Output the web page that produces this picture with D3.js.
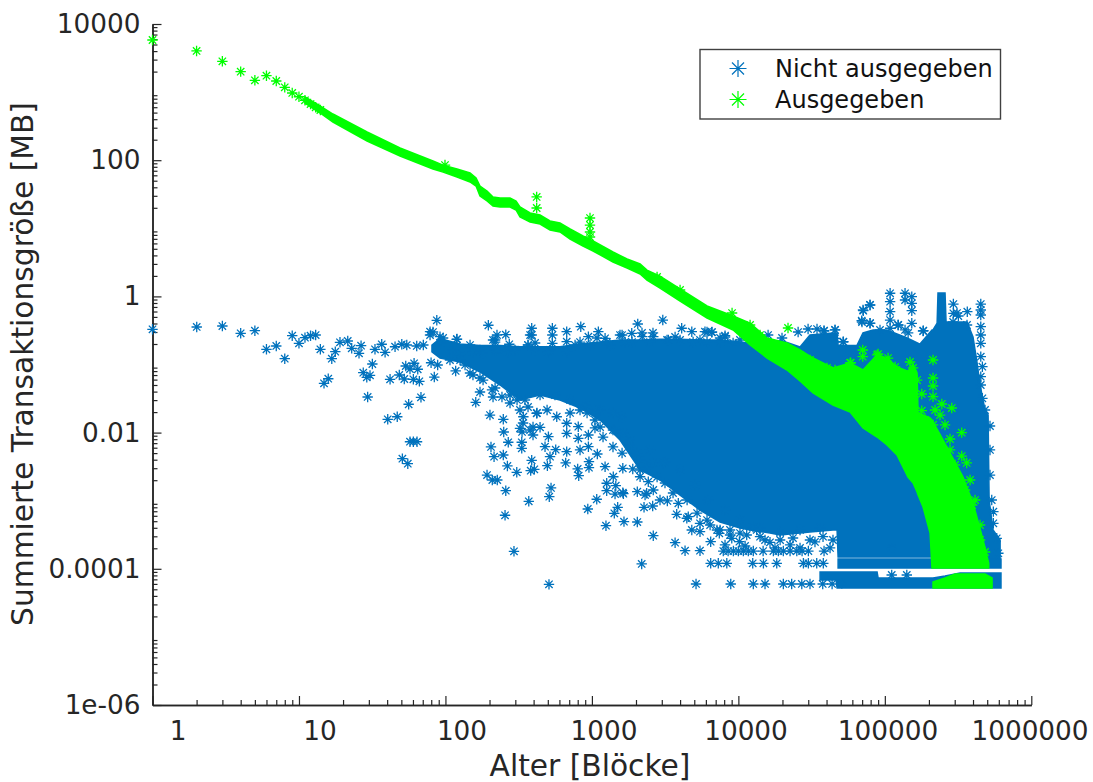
<!DOCTYPE html>
<html><head><meta charset="utf-8">
<script src="https://cdn.jsdelivr.net/npm/d3@7"></script>
<style>html,body{margin:0;padding:0;background:#fff}svg{display:block}text{font-family:"DejaVu Sans",sans-serif}</style>
</head><body><svg id="c" width="1093" height="782"></svg>
<script>
// All readings are log10(value): [log10 Alter, log10 Größe]
const seriesNames = ["Nicht ausgegeben", "Ausgegeben"];
const xTickLabels = ["1","10","100","1000","10000","100000","1000000"];
const yTickLabels = ["1e-06","0.0001","0.01","1","100","10000"];

// Dense core of "Nicht ausgegeben": [log Alter, log top, log bottom]
const nichtKern = [[1.908,-.714,-.816],[1.963,-.620,-.905],[2.100,-.700,-.963],[2.236,-.720,-1.110],[2.373,-.720,-1.301],[2.509,-.740,-1.521],[2.646,-.740,-1.448],[2.782,-.740,-1.521],[2.919,-.700,-1.639],[3.056,-.670,-1.815],[3.192,-.640,-2.109],[3.329,-.640,-2.549],[3.465,-.630,-2.696],[3.602,-.630,-2.917],[3.738,-.640,-3.137],[3.875,-.640,-3.313],[4.011,-.670,-3.401],[4.080,-.684,-3.430],[4.216,-.758,-3.475],[4.285,-.640,-3.504],[4.421,-.743,-3.475],[4.489,-.567,-3.460],[4.646,-.537,-3.430],[4.674,-.537,-3.430],[4.681,-.720,-3.827],[4.810,-.720,-3.827],[4.851,-.537,-3.827],[4.920,-.493,-3.827],[5.015,-.493,-3.827],[5.152,-.611,-3.827],[5.240,-.700,-3.827],[5.322,-.493,-3.827],[5.329,-.493,-3.871],[5.357,-.391,-3.871],[5.363,.050,-3.871],[5.411,.050,-3.871],[5.418,-.376,-3.871],[5.561,-.376,-3.871],[5.602,-.596,-3.871],[5.630,-.978,-3.871],[5.650,-1.301,-3.871],[5.684,-1.668,-3.871],[5.705,-1.741,-3.871],[5.712,-2.990,-3.871],[5.739,-3.430,-3.871],[5.787,-3.577,-3.871]];
const nichtBandOben = [[4.681,-3.856,-3.988],[5.793,-3.856,-3.988]];
const nichtBandUnten = [[4.558,-4.047,-4.165],[4.667,-4.047,-4.165],[4.674,-4.047,-4.282],[4.947,-4.047,-4.282],[4.954,-4.135,-4.282],[5.329,-4.135,-4.282],[5.411,-4.106,-4.282],[5.514,-4.062,-4.282],[5.793,-4.062,-4.282]];

// Individually readable "Nicht ausgegeben" markers
const nichtPunkte = [[0,-.483],[.302,-.449],[.477,-.435],[.602,-.542],[.699,-.504],[.778,-.777],[.845,-.728],[.903,-.915],[.954,-.577],[1,-.689],[1.041,-.606],[1.079,-.577],[1.114,-.567],[1.146,-.777],[1.224,-.915],[1.248,-.812],[1.171,-1.276],[1.200,-1.209],[1.280,-.674],[1.333,-.655],[1.360,-.762],[1.410,-.836],[1.424,-.724],[1.439,-1.120],[1.463,-1.188],[1.485,-1.159],[1.501,-.993],[1.469,-1.477],[1.519,-.777],[1.565,-.703],[1.588,-.821],[1.622,-1.217],[1.606,-1.805],[1.671,-1.767],[1.656,-.739],[1.702,-.703],[1.685,-1.154],[1.719,-1.213],[1.729,-1.022],[1.758,-1.066],[1.786,-.982],[1.811,-1.070],[1.781,-1.217],[1.822,-1.247],[1.749,-1.584],[1.833,-1.482],[1.781,-2.134],[1.806,-2.134],[1.758,-2.134],[1.706,-2.383],[1.743,-2.457],[1.736,-.714],[1.804,-.728],[1.849,-.714],[1.895,-.518],[1.941,-.351],[1.963,-.592],[1.902,-.974],[1.947,-1.007],[1.924,-1.184],[2.070,-1.095],[2.077,-.630],[2.207,-1.555],[2.293,-.424],[2.339,-.640],[2.412,-.562],[2.436,-.703],[2.304,-1.742],[2.395,-1.805],[2.398,-1.991],[2.429,-2.142],[2.311,-2.211],[2.332,-2.354],[2.395,-2.329],[2.423,-2.490],[2.284,-2.623],[2.320,-2.696],[2.354,-2.696],[2.412,-2.853],[2.407,-3.214],[2.468,-3.743],[2.487,-2.583],[2.569,-3.009],[2.521,-2.142],[2.589,-2.407],[2.582,-2.559],[2.607,-2.539],
[2.589,-.468],[2.589,-.567],[2.564,-.714],[2.730,-.468],[2.730,-.567],[2.730,-.689],[2.828,-.518],[2.828,-.665],[2.924,-.445],[3.044,-.518],[2.976,-.592],[3.313,-.405],[3.484,-.347],[3.613,-.468],[3.682,-.518],[3.772,-.518],[3.818,-.527],[3.909,-.577],[3.192,-.567],[3.272,-.542],[3.090,-.615],[3.344,-.592],[3.419,-.592],[3.522,-.640],
[2.532,-1.767],[2.509,-1.937],[2.578,-1.962],[2.646,-1.922],[2.703,-2.060],[2.623,-1.717],[2.760,-1.767],[2.521,-2.231],[2.680,-2.207],[2.753,-2.251],[2.828,-1.863],[2.828,-2.010],[2.828,-2.280],[2.907,-1.913],[2.907,-2.084],[2.919,-2.255],[2.976,-2.035],[2.976,-2.207],[3.037,-2.314],[3.021,-1.815],[2.821,-2.446],[2.696,-2.486],[2.714,-2.354],[2.721,-2.813],[2.709,-2.941],[2.707,-4.228],[2.903,-2.534],[2.910,-2.633],[2.980,-2.427],[2.980,-2.515],[3.090,-2.501],[3.146,-2.648],[3.101,-2.744],[3.211,-2.524],[3.101,-2.853],[3.158,-2.902],[3.211,-2.882],[3.163,-2.780],[3.279,-2.534],[3.033,-2.979],[2.972,-3.122],[3.176,-3.097],[3.153,-3.185],[3.096,-3.367],[3.219,-3.308],[3.310,-3.313],[3.356,-3.097],[3.415,-3.078],[3.310,-2.868],[3.374,-2.891],[3.419,-2.843],[3.329,-2.648],[3.385,-2.721],[3.329,-2.402],[3.419,-3.514],[3.340,-3.929],[3.579,-3.200],[3.568,-3.617],[3.636,-3.734],[3.738,-3.734],[3.465,-2.990],[3.515,-3.004],[3.590,-3.038],[3.658,-3.235],[3.682,-3.430],[3.738,-3.455],[3.811,-3.602],[3.870,-3.479],[3.215,-2.897],[3.363,-2.916],
[3.811,-3.919],[3.863,-3.919],[3.921,-3.919],[4.098,-3.919],[4.171,-3.919],[4.262,-3.919],[4.444,-3.919],[4.478,-3.919],[4.535,-3.919],[4.580,-3.919],
[3.897,-3.739],[3.930,-3.739],[3.966,-3.739],[4.000,-3.739],[4.034,-3.739],[4.068,-3.739],[4.102,-3.739],[4.169,-3.739],[4.239,-3.739],[4.273,-3.739],[4.307,-3.739],[4.353,-3.739],[4.399,-3.739],[4.435,-3.739],[4.478,-3.739],[4.585,-3.739],
[3.711,-4.223],[3.948,-4.223],[4.102,-4.223],[4.182,-4.223],[4.307,-4.223],[4.364,-4.223],[4.433,-4.223],[4.489,-4.223],[4.576,-4.223],[4.640,-4.223],
[3.648,-3.258],[3.738,-3.332],[3.807,-3.357],[3.875,-3.430],[3.943,-3.504],[4.057,-3.504],[4.148,-3.529],[4.285,-3.577],[4.373,-3.548],[4.489,-3.577],[4.578,-3.529],[4.646,-3.577],[4.007,-3.602],[4.216,-3.611],[3.955,-3.552],[4.125,-3.430],
[5.036,.046],[5.036,-.078],[5.138,.046],[5.138,-.053],[5.184,-.004],[5.184,-.101],[5.184,-.210],[4.899,-.126],[4.853,-.210],[5.036,-.225],[4.842,-.357],[4.899,-.395],[5.036,-.347],[5.036,-.468],[5.092,-.420],[5.184,-.395],[5.263,-.504],[5.138,-.493],[4.660,-.493],[4.660,-.615],[4.585,-.504],[4.717,-.665],[4.967,-.493],[5.468,-.112],[5.468,-.248],[5.502,-.288],[5.563,-.225],[5.655,-.112],[5.655,-.200],[5.655,-.273],[5.655,-.445],[5.655,-.567],[5.655,-.689],[5.655,-.885],[5.666,-1.032],[5.655,-1.179],[5.655,-1.301],[5.666,-1.496],[5.684,-1.668],[5.718,-1.903],[5.718,-2.255],[5.718,-2.623],[5.730,-2.990],[5.741,-3.161],[5.764,-3.552],[5.775,-3.772],[5.741,-3.332],[5.047,-4.091],[5.150,-4.091],[5.047,-3.699],[4.706,-4.213],
[2.168,-.714],[2.236,-.787],[2.339,-.787],[2.475,-.787],[2.612,-.787],[2.714,-.787],[2.885,-.714],[2.987,-.714],[3.124,-.714],[3.226,-.670],[3.397,-.670],[3.568,-.596],[3.738,-.640],[3.875,-.611],[4.011,-.640],[4.148,-.684],
[2.031,-.934],[2.134,-1.007],[2.236,-1.198],[2.339,-1.345],[2.441,-1.448],[2.543,-1.521],[2.646,-1.448],[2.748,-1.448],[2.851,-1.521],[2.953,-1.595],[3.056,-1.668],[3.158,-1.962],[3.260,-2.182],[3.397,-2.255],[3.500,-2.432],[3.602,-2.549],[3.704,-2.770],[3.793,-2.990],[3.909,-3.137],[4.011,-3.284],[4.148,-3.401],[4.285,-3.460],[4.421,-3.430],[4.558,-3.401],
[1.984,-.611],[2.079,-.626],[2.188,-.816],[2.257,-.831],[2.339,-.670],[2.352,-.787],[2.427,-.816],[2.564,-.714],[2.612,-.684],[2.700,-.816],[2.830,-.816],[2.919,-.670],[3.035,-.611],[3.103,-.670],[3.206,-.567],[3.274,-.670],[3.342,-.537],[3.417,-.537],[3.513,-.640],[3.602,-.640],[3.691,-.670],[3.786,-.670],[3.875,-.670],[3.964,-.684],[3.786,-.523],[3.820,-.523],[3.909,-.596],[4.203,-.567],[4.298,-.611],[4.408,-.523],[4.476,-.479],[4.537,-.479],[4.585,-.508],[4.660,-.493],[4.715,-.670],[4.851,-.200],[4.899,-.126],[4.844,-.376],[4.899,-.392],[5.090,-.420],[5.159,-.537],[5.261,-.508],[5.493,-.244],[5.561,-.420],[5.466,-.376],
[2.441,-1.565],[2.509,-1.668],[2.564,-1.624],[2.694,-1.668],[2.851,-1.712],[2.919,-1.668],[2.967,-1.712],[3.021,-1.668],[3.056,-1.918],[3.076,-2.065],[3.021,-1.932],[3.144,-1.712],[3.144,-1.962],[3.144,-2.211],[3.206,-1.771],[3.213,-2.006],[3.206,-2.300],[3.260,-2.109],[3.308,-2.300],[3.329,-2.549],[3.376,-2.505],[3.417,-2.446],[3.486,-2.446],[3.445,-2.652],[3.499,-2.740],[3.554,-2.887],[3.650,-2.990],[3.718,-3.181],[3.786,-3.284],[3.854,-3.430],[3.943,-3.430],[4.011,-3.475],[4.100,-3.387],
[2.188,-1.154],[2.257,-1.228],[2.318,-1.374],[2.386,-1.477],[2.236,-1.404],[2.325,-1.477],[2.489,-1.521],[2.625,-1.712],[2.530,-1.859],[2.598,-1.918],[2.523,-1.991],[2.598,-2.035],[2.325,-.640],[2.352,-.567],[2.578,-.567],[1.895,-.567],[1.915,-.523],[1.963,-.684],[2.052,-.787],[2.100,-.861],[2.100,-.934],[2.168,-1.125],
[3.909,-3.650],[4.046,-3.665],[4.182,-3.577],[4.353,-3.650],[4.523,-3.606],[4.626,-3.694],[4.421,-3.694],[4.250,-3.694]];

// Dense body of "Ausgegeben": [log Alter, log top, log bottom]
const ausKern = [[1.041,2.928,2.840],[1.144,2.796,2.693],[1.232,2.678,2.561],[1.465,2.414,2.282],[1.690,2.179,2.062],[1.915,1.988,1.871],[1.984,1.928,1.825],[2.079,1.871,1.753],[2.168,1.812,1.680],[2.209,1.739,1.620],[2.236,1.620,1.474],[2.284,1.548,1.401],[2.325,1.460,1.328],[2.373,1.445,1.313],[2.441,1.445,1.313],[2.482,1.401,1.269],[2.509,1.313,1.166],[2.578,1.225,1.092],[2.646,1.195,1.063],[2.714,1.107,.975],[2.782,1.078,.946],[2.851,.990,.843],[2.939,.887,.740],[3.008,.814,.667],[3.144,.652,.505],[3.240,.549,.417],[3.329,.476,.329],[3.376,.386,.239],[3.465,.298,.123],[3.602,.109,-.069],[3.786,-.141,-.317],[3.964,-.288,-.493],[4.080,-.391,-.714],[4.196,-.611,-.905],[4.332,-.684,-1.081],[4.421,-.787,-1.242],[4.510,-.905,-1.418],[4.646,-1.051,-1.595],[4.763,-.980,-1.698],[4.851,-1.080,-1.933],[4.947,-.860,-2.065],[5.015,-.905,-2.182],[5.083,-1.037,-2.329],[5.158,-1.100,-2.652],[5.193,-1.000,-2.740],[5.220,-1.125,-2.872],[5.227,-1.712,-2.917],[5.261,-1.741,-3.092],[5.309,-1.785,-3.474],[5.322,-1.815,-3.988],[5.398,-2.109,-3.988],[5.534,-2.652,-3.988],[5.602,-3.034,-3.988],[5.671,-3.577,-3.988],[5.709,-3.915,-3.988]];
const ausBlock = [[5.329,-4.195,-4.282],[5.411,-4.135,-4.282],[5.480,-4.076,-4.282],[5.684,-4.076,-4.282],[5.732,-4.135,-4.282]];

// Individually readable "Ausgegeben" markers
const ausPunkte = [[0,3.765],[.301,3.604],[.477,3.452],[.602,3.30],[.699,3.173],[.778,3.241],[.845,3.163],[.903,3.07],[.954,2.987],[1,2.932],[1.041,2.88],[1.079,2.825],[1.114,2.777],[1.146,2.737],
[1.997,1.929],[2.623,1.460],[2.623,1.298],[2.987,1.151],[2.987,1.048],[2.987,.946],[2.987,.872],[3.445,.285],[3.602,.094],[3.957,-.244],[4.080,-.420],[4.339,-.464],[4.849,-.787],[4.849,-.885],[5.329,-.934],[5.329,-1.198],[5.329,-1.316],[5.329,-1.473],[5.252,-1.433],[5.252,-1.678],[5.457,-1.639],[5.389,-1.580],[5.525,-2.001],[5.525,-2.344],[5.559,-2.446],[5.445,-2.094],[4.954,-.846],[4.767,-.974],[5.377,-1.742],[5.411,-1.888],[5.343,-1.668],[5.582,-2.696],[5.616,-2.990],[5.650,-3.357],
[4.605,-1.051],[4.660,-1.081],[4.763,-.978],[4.783,-1.081],[4.899,-1.081],[4.947,-.860],[4.954,-1.007],[5.022,-.905],[5.070,-1.037],[5.104,-1.184],[5.172,-.963],[5.193,-1.051],[5.220,-1.228],[4.558,-1.037],[4.250,-.743],[4.421,-.861],[4.489,-.934],[4.148,-.567],[5.275,-1.815],[5.329,-1.888],[5.445,-2.255],[5.480,-2.475],[5.548,-2.843],[5.596,-3.063],[5.650,-3.577],[5.684,-3.753]];

const blue = "#0072BD", green = "#00FF00", ink = "#262626";
const plotLeft = 152.5, plotRight = 1031.3, plotTop = 24, plotBottom = 705;
const x = d3.scaleLog().domain([1, 1e6]).range([plotLeft, plotRight]);
const y = d3.scaleLog().domain([1e-6, 1e4]).range([plotBottom, plotTop]);
const xLabelPos = d3.scaleLog().domain([1, 1e6]).range([178, 1030]);
const svg = d3.select("#c");

const decades = (lo, hi) => d3.range(lo, hi + 1).map(k => 10 ** k);
const minors = (lo, hi) => d3.range(lo, hi).flatMap(k => d3.range(2, 10).map(m => m * 10 ** k));

// X axis
const gx = svg.append("g").attr("transform", `translate(0,${plotBottom})`);
gx.call(d3.axisBottom(x).tickValues(decades(0, 6)).tickSizeInner(-9).tickSizeOuter(0).tickFormat(""));
const gxm = svg.append("g").attr("transform", `translate(0,${plotBottom})`);
gxm.call(d3.axisBottom(x).tickValues(minors(0, 6)).tickSizeInner(-5).tickSizeOuter(0).tickFormat(""));
svg.append("g").selectAll("text").data(xTickLabels).join("text")
  .attr("x", d => xLabelPos(+d)).attr("y", 740).attr("text-anchor", "middle")
  .attr("font-size", 26.3).attr("fill", ink).text(d => d);

// Y axis
const gy = svg.append("g").attr("transform", `translate(${plotLeft},0)`);
gy.call(d3.axisLeft(y).tickValues(yTickLabels.map(Number)).tickSizeInner(-9).tickSizeOuter(0).tickPadding(12).tickFormat((d, i) => yTickLabels[i]));
const gym = svg.append("g").attr("transform", `translate(${plotLeft},0)`);
gym.call(d3.axisLeft(y).tickValues(minors(-6, 4)).tickSizeInner(-5).tickSizeOuter(0).tickFormat(""));
gy.selectAll("text").attr("font-size", 26.3).attr("fill", ink).attr("font-family", '"DejaVu Sans"');
svg.selectAll(".domain").attr("stroke", ink).attr("stroke-width", 1.5);
svg.selectAll(".tick line").attr("stroke", ink).attr("stroke-width", 1.2);

// Axis titles
svg.append("text").attr("x", 590).attr("y", 776).attr("text-anchor", "middle").attr("font-size", 29.7).attr("fill", ink).text("Alter [Blöcke]");
svg.append("text").attr("transform", "translate(33,364) rotate(-90)").attr("text-anchor", "middle").attr("font-size", 29.7).attr("fill", ink).text("Summierte Transaktionsgröße [MB]");

// Marks
const area = d3.area().x(d => x(10 ** d[0])).y0(d => y(10 ** d[2])).y1(d => y(10 ** d[1]));
const star = r => {
  const c = r * Math.SQRT1_2;
  return `M${-r} 0L${r} 0M0 ${-r}L0 ${r}M${-c} ${-c}L${c} ${c}M${-c} ${c}L${c} ${-c}`;
};
const drawCloud = (cores, pts, color) => {
  const g = svg.append("g");
  cores.forEach(c => g.append("path").attr("d", area(c)).attr("fill", color).attr("stroke", color).attr("stroke-width", 1.5));
  g.append("g").selectAll("path").data(pts).join("path")
    .attr("transform", d => `translate(${x(10 ** d[0])},${y(10 ** d[1])})`)
    .attr("d", star(5.2)).attr("fill", "none").attr("stroke", color).attr("stroke-width", 1.3);
};
drawCloud([nichtKern, nichtBandOben, nichtBandUnten], nichtPunkte, blue);
drawCloud([ausKern, ausBlock], ausPunkte, green);

// Legend
const lg = svg.append("g");
lg.append("rect").attr("x", 700).attr("y", 49.5).attr("width", 300.5).attr("height", 69.5).attr("fill", "#fff").attr("stroke", "#404040").attr("stroke-width", 1.4);
const legendRows = seriesNames.map((name, i) => ({ name, color: [blue, green][i], cy: [68.5, 99.5][i] }));
lg.selectAll("path").data(legendRows).join("path")
  .attr("transform", d => `translate(738,${d.cy})`).attr("d", star(8.5)).attr("fill", "none").attr("stroke", d => d.color).attr("stroke-width", 1.2);
lg.selectAll("text").data(legendRows).join("text")
  .attr("x", 775).attr("y", d => d.cy + 8).attr("font-size", 24).attr("fill", "#111").text(d => d.name);
</script></body></html>
